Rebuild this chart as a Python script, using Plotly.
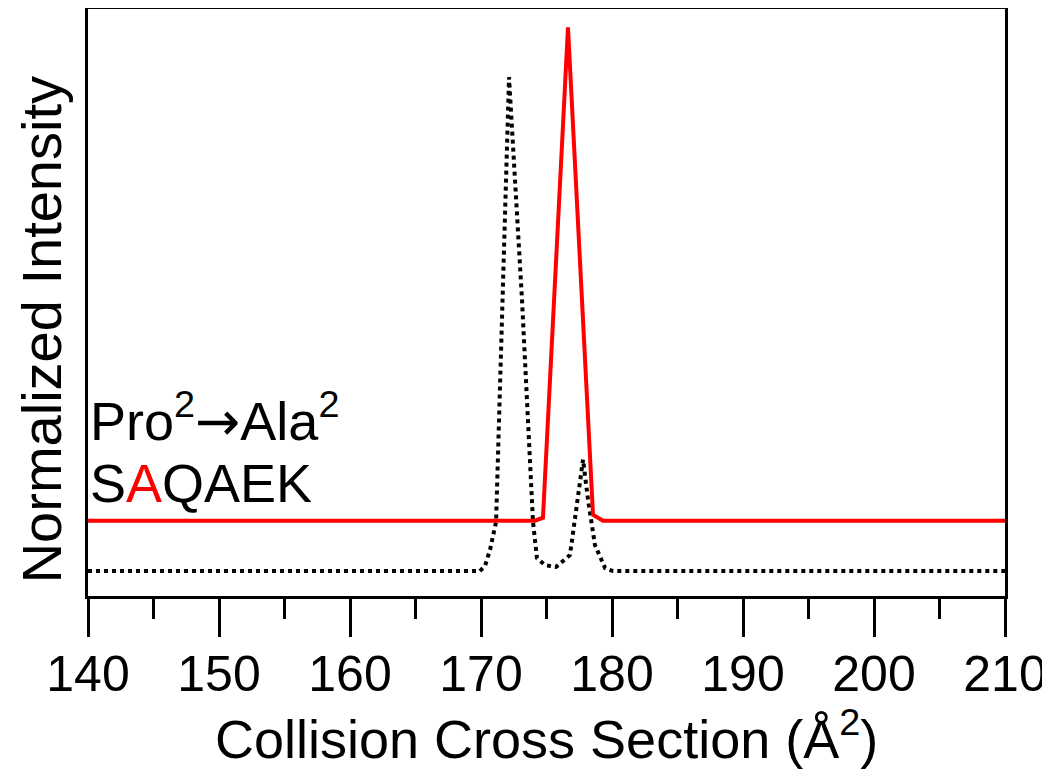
import plotly.graph_objects as go

# Collision cross section (Å^2) and normalized intensity (offset traces)
black_x = [140, 169.92, 170.31, 170.69, 171.15, 171.60, 172.14, 172.6, 173.13, 173.97, 174.27, 174.89,
           175.73, 176.79, 177.40, 177.79, 178.17, 178.70, 179.47, 180.08, 210]
black_y = [0.042, 0.042, 0.051, 0.078, 0.125, 0.466, 0.875, 0.70, 0.50, 0.125, 0.064, 0.052,
           0.049, 0.069, 0.162, 0.230, 0.162, 0.086, 0.047, 0.042, 0.042]

red_x = [140, 174.12, 174.73, 176.64, 178.55, 179.31, 210]
red_y = [0.127, 0.127, 0.132, 0.959, 0.137, 0.127, 0.127]

x_ticks = [140, 150, 160, 170, 180, 190, 200, 210]

FONT = "Liberation Sans, Arial, sans-serif"

fig = go.Figure()
fig.add_trace(go.Scatter(x=black_x, y=black_y, mode="lines",
                         line=dict(color="black", width=4, dash="4px,4px"),
                         showlegend=False, hoverinfo="skip"))
fig.add_trace(go.Scatter(x=red_x, y=red_y, mode="lines",
                         line=dict(color="#ff0000", width=4),
                         showlegend=False, hoverinfo="skip"))

fig.update_layout(
    width=1042, height=762,
    margin=dict(l=80, r=45, t=1, b=174, autoexpand=False),
    paper_bgcolor="white", plot_bgcolor="white",
    font=dict(family=FONT, color="black"),
    xaxis=dict(
        range=[140, 210], tickvals=x_ticks, ticktext=[str(v) for v in x_ticks],
        ticks="outside", ticklen=38, tickwidth=3, tickcolor="black",
        minor=dict(dtick=5, tick0=140, ticks="outside", ticklen=20, tickwidth=3, tickcolor="black", showgrid=False),
        showline=True, linewidth=3, linecolor="black", mirror=True,
        showgrid=False, zeroline=False, automargin=False,
        tickfont=dict(size=50, family=FONT), ticklabelstandoff=-6,
    ),
    yaxis=dict(
        range=[0, 0.99], showticklabels=False, ticks="",
        showline=True, linewidth=3, linecolor="black", mirror=True,
        showgrid=False, zeroline=False, automargin=False,
    ),
    annotations=[
        dict(text="Collision Cross Section (Å<sup>2</sup>)", x=0.5, y=-0.237, xref="paper", yref="paper",
             xanchor="center", yanchor="middle", showarrow=False, font=dict(size=54, family=FONT, color="black")),
        dict(text="Normalized Intensity", x=-0.051, y=0.453, xref="paper", yref="paper", textangle=-90,
             xanchor="center", yanchor="middle", showarrow=False, font=dict(size=56, family=FONT, color="black")),
        dict(text="Pro<sup>2</sup><span style='font-family:DejaVu Sans'>→</span>Ala<sup>2</sup>",
             x=0.0, y=0.304, xref="paper", yref="paper",
             xanchor="left", yanchor="middle", showarrow=False, font=dict(size=54, family=FONT, color="black")),
        dict(text="S<span style='color:#ff0000'>A</span>QAEK", x=0.0, y=0.192, xref="paper", yref="paper",
             xanchor="left", yanchor="middle", showarrow=False, font=dict(size=54, family=FONT, color="black")),
    ],
)

fig.write_html("out.html")
